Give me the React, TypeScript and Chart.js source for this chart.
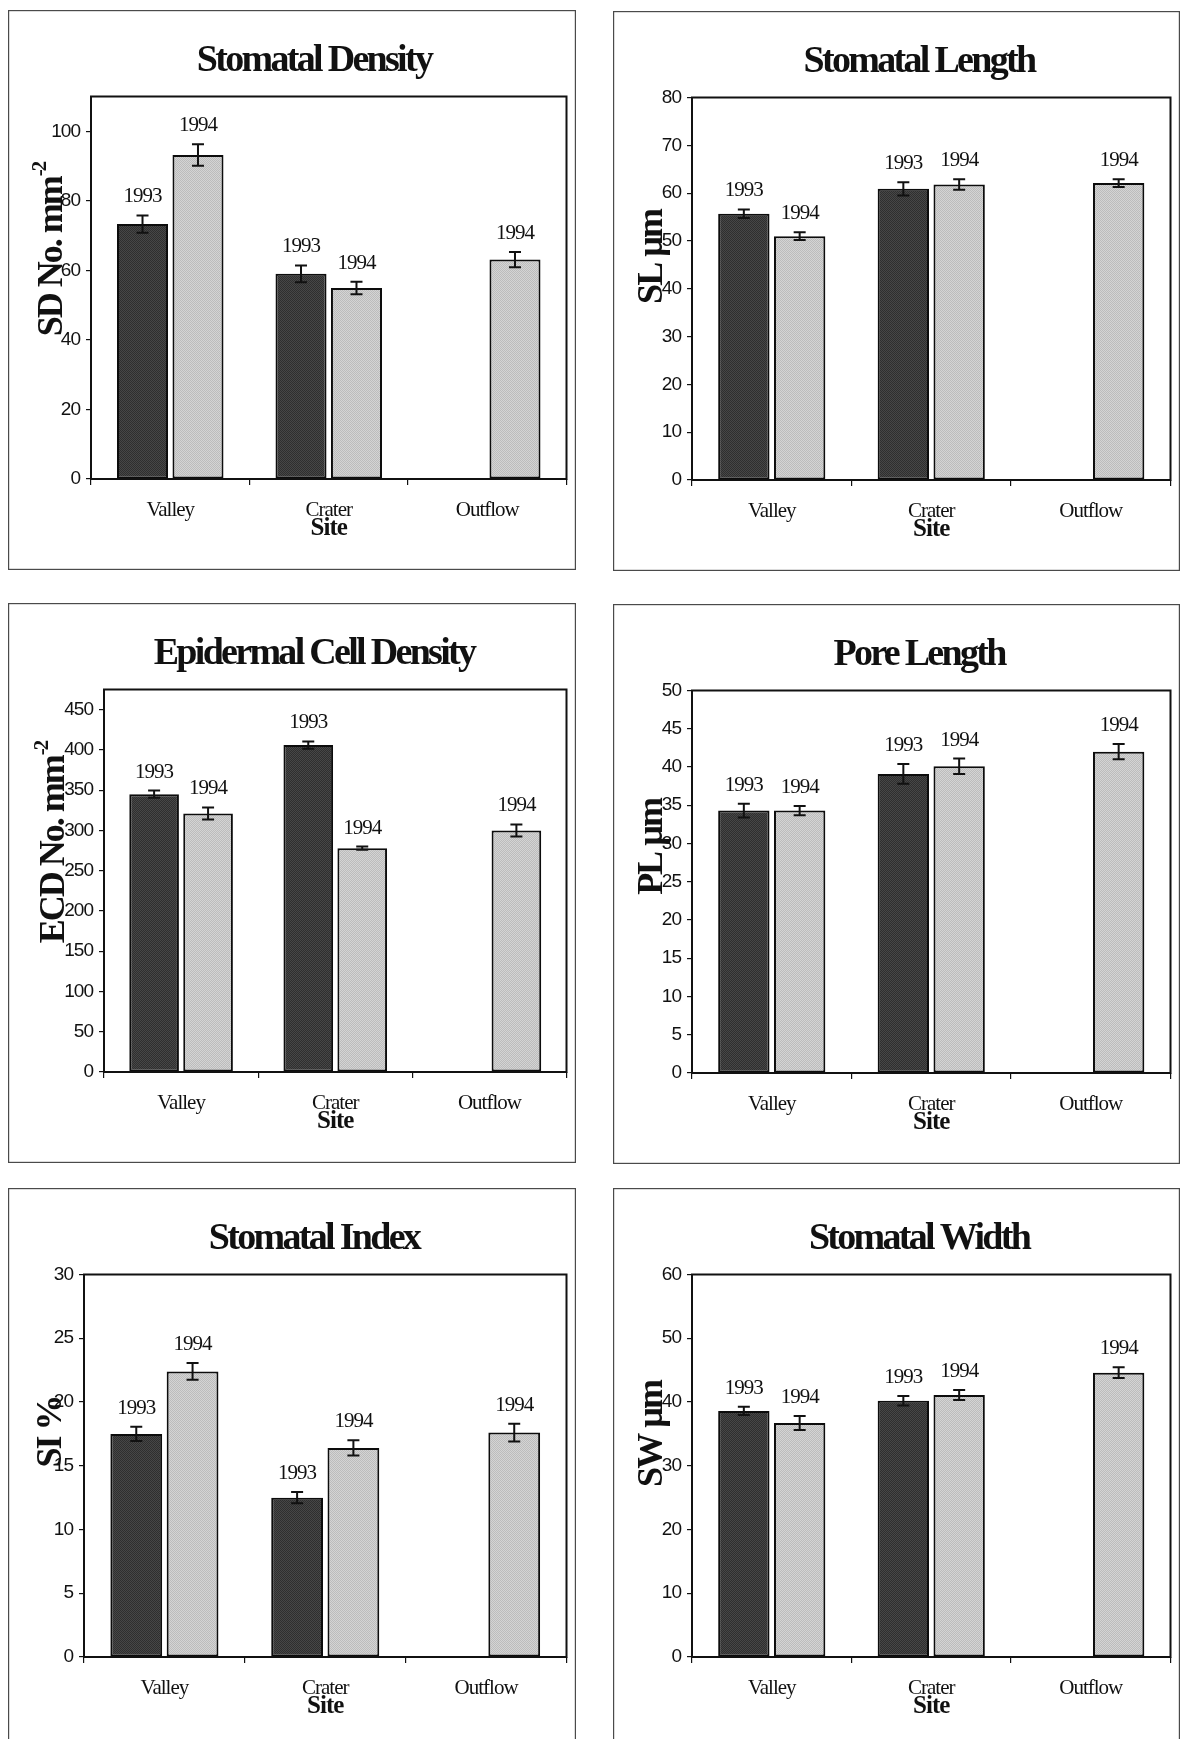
import React, { useEffect, useRef } from 'react';
import { Chart, registerables } from 'chart.js';

Chart.register(...registerables);

// ---- data ----
const SITES = ['Valley', 'Crater', 'Outflow'];
const YEAR_A = '1993';
const YEAR_B = '1994';

// Stomatal density (No. mm^-2)
const SD_1993 = [73.3, 59.0, null];
const SD_1994 = [93.2, 54.9, 63.1];
const SD_ERR_1993 = [2.5, 2.4, null];
const SD_ERR_1994 = [3.1, 1.8, 2.2];

// Stomatal length (µm)
const SL_1993 = [55.7, 60.9, null];
const SL_1994 = [51.0, 61.8, 62.1];
const SL_ERR_1993 = [0.9, 1.4, null];
const SL_ERR_1994 = [0.8, 1.1, 0.8];

// Epidermal cell density (No. mm^-2)
const ECD_1993 = [345, 406, null];
const ECD_1994 = [321, 278, 300];
const ECD_ERR_1993 = [4.5, 4.5, null];
const ECD_ERR_1994 = [7.5, 2.0, 7.5];

// Pore length (µm)
const PL_1993 = [34.3, 39.1, null];
const PL_1994 = [34.3, 40.1, 42.0];
const PL_ERR_1993 = [0.9, 1.3, null];
const PL_ERR_1994 = [0.6, 1.0, 1.0];

// Stomatal index (%)
const SI_1993 = [17.5, 12.5, null];
const SI_1994 = [22.4, 16.4, 17.6];
const SI_ERR_1993 = [0.55, 0.45, null];
const SI_ERR_1994 = [0.66, 0.6, 0.7];

// Stomatal width (µm)
const SW_1993 = [38.6, 40.2, null];
const SW_1994 = [36.7, 41.1, 44.6];
const SW_ERR_1993 = [0.65, 0.75, null];
const SW_ERR_1994 = [1.1, 0.8, 0.85];

// ---- panel setup ----
type PanelCfg = {
  title: string;
  yMain: string;
  ySup: string;
  max: number;
  step: number;
  a: (number | null)[];
  b: (number | null)[];
  ea: (number | null)[];
  eb: (number | null)[];
  left: number;
  top: number;
  width: number;
  plotLeft: number;
  yTitleX: number;
  yTitleY: number;
};

const PANEL_H = 560;
const PLOT_TOP = 86.5;
const PLOT_BOTTOM = 469;
const PLOT_RIGHT_PAD = 9.5;
const X_AXIS_H = 65;

const PANELS: PanelCfg[] = [
  { title: 'Stomatal Density', yMain: 'SD No. mm', ySup: '-2', max: 110, step: 20,
    a: SD_1993, b: SD_1994, ea: SD_ERR_1993, eb: SD_ERR_1994,
    left: 8, top: 10, width: 568, plotLeft: 83, yTitleX: 54, yTitleY: 240 },
  { title: 'Stomatal Length', yMain: 'SL µm', ySup: '', max: 80, step: 10,
    a: SL_1993, b: SL_1994, ea: SL_ERR_1993, eb: SL_ERR_1994,
    left: 613, top: 11, width: 567, plotLeft: 79, yTitleX: 49, yTitleY: 246 },
  { title: 'Epidermal Cell Density', yMain: 'ECD No. mm', ySup: '-2', max: 475, step: 50,
    a: ECD_1993, b: ECD_1994, ea: ECD_ERR_1993, eb: ECD_ERR_1994,
    left: 8, top: 603, width: 568, plotLeft: 96, yTitleX: 56, yTitleY: 240 },
  { title: 'Pore Length', yMain: 'PL µm', ySup: '', max: 50, step: 5,
    a: PL_1993, b: PL_1994, ea: PL_ERR_1993, eb: PL_ERR_1994,
    left: 613, top: 604, width: 567, plotLeft: 79, yTitleX: 49, yTitleY: 243 },
  { title: 'Stomatal Index', yMain: 'SI %', ySup: '', max: 30, step: 5,
    a: SI_1993, b: SI_1994, ea: SI_ERR_1993, eb: SI_ERR_1994,
    left: 8, top: 1188, width: 568, plotLeft: 76, yTitleX: 53, yTitleY: 244 },
  { title: 'Stomatal Width', yMain: 'SW µm', ySup: '', max: 60, step: 10,
    a: SW_1993, b: SW_1994, ea: SW_ERR_1993, eb: SW_ERR_1994,
    left: 613, top: 1188, width: 567, plotLeft: 79, yTitleX: 49, yTitleY: 246 },
];

const SERIF = '"Liberation Serif", "Times New Roman", serif';
const SANS = '"Liberation Sans", Arial, sans-serif';
const INK = '#111';

// fine two-tone checker used as a stippled bar fill
function stipple(ctx: CanvasRenderingContext2D, toneA: string, toneB: string) {
  const c = document.createElement('canvas');
  c.width = 2;
  c.height = 2;
  const g = c.getContext('2d')!;
  g.fillStyle = toneA;
  g.fillRect(0, 0, 2, 2);
  g.fillStyle = toneB;
  g.fillRect(1, 0, 1, 1);
  g.fillRect(0, 1, 1, 1);
  return ctx.createPattern(c, 'repeat')!;
}

function decorPlugin(cfg: PanelCfg) {
  return {
    id: 'panelDecor',
    beforeDraw(chart: any) {
      const ctx = chart.ctx as CanvasRenderingContext2D;
      ctx.save();
      ctx.fillStyle = '#fff';
      ctx.fillRect(0, 0, chart.width, chart.height);
      ctx.strokeStyle = '#4a4a4a';
      ctx.lineWidth = 1.2;
      ctx.strokeRect(0.6, 0.6, chart.width - 1.2, chart.height - 1.2);
      ctx.restore();
      // tighter tracking for the axis labels
      (ctx as any).letterSpacing = '-1px';
    },
    afterDatasetsDraw(chart: any) {
      const ctx = chart.ctx as CanvasRenderingContext2D;
      const yScale = chart.scales.y;
      const errs = [cfg.ea, cfg.eb];
      ctx.save();
      ctx.strokeStyle = INK;
      ctx.lineWidth = 2;
      chart.data.datasets.forEach((ds: any, i: number) => {
        const meta = chart.getDatasetMeta(i);
        meta.data.forEach((bar: any, j: number) => {
          const v = ds.data[j];
          const e = errs[i][j];
          if (v == null || e == null) return;
          const yt = yScale.getPixelForValue(v + e);
          const yb = yScale.getPixelForValue(v - e);
          const x = bar.x;
          ctx.beginPath();
          ctx.moveTo(x, yt);
          ctx.lineTo(x, yb);
          ctx.moveTo(x - 6, yt);
          ctx.lineTo(x + 6, yt);
          ctx.moveTo(x - 6, yb);
          ctx.lineTo(x + 6, yb);
          ctx.stroke();
        });
      });
      // plot frame
      const a = chart.chartArea;
      ctx.lineWidth = 2;
      ctx.strokeRect(a.left, a.top, a.right - a.left, a.bottom - a.top);
      ctx.restore();
    },
    afterDraw(chart: any) {
      const ctx = chart.ctx as CanvasRenderingContext2D;
      const yScale = chart.scales.y;
      const errs = [cfg.ea, cfg.eb];

      // year labels above each bar
      ctx.save();
      ctx.fillStyle = INK;
      ctx.font = `21px ${SERIF}`;
      (ctx as any).letterSpacing = '-1px';
      ctx.textAlign = 'center';
      ctx.textBaseline = 'alphabetic';
      chart.data.datasets.forEach((ds: any, i: number) => {
        const meta = chart.getDatasetMeta(i);
        meta.data.forEach((bar: any, j: number) => {
          const v = ds.data[j];
          if (v == null) return;
          const e = errs[i][j] ?? 0;
          const yt = yScale.getPixelForValue(v + e);
          ctx.fillText(ds.label, bar.x, yt - 13);
        });
      });
      ctx.restore();

      // panel title
      ctx.save();
      ctx.fillStyle = INK;
      ctx.font = `bold 38px ${SERIF}`;
      (ctx as any).letterSpacing = '-2.7px';
      ctx.textAlign = 'center';
      ctx.textBaseline = 'alphabetic';
      ctx.fillText(cfg.title, 306, 60.5);
      ctx.restore();

      // rotated y-axis title with optional superscript
      ctx.save();
      ctx.fillStyle = INK;
      (ctx as any).letterSpacing = '-2px';
      ctx.translate(cfg.yTitleX, cfg.yTitleY);
      ctx.rotate(-Math.PI / 2);
      ctx.textAlign = 'left';
      ctx.textBaseline = 'alphabetic';
      ctx.font = `bold 36px ${SERIF}`;
      const mainW = ctx.measureText(cfg.yMain).width;
      let supW = 0;
      if (cfg.ySup) {
        ctx.font = `bold 21px ${SERIF}`;
        supW = ctx.measureText(cfg.ySup).width;
      }
      const x0 = -(mainW + supW) / 2;
      ctx.font = `bold 36px ${SERIF}`;
      ctx.fillText(cfg.yMain, x0, 0);
      if (cfg.ySup) {
        ctx.font = `bold 21px ${SERIF}`;
        ctx.fillText(cfg.ySup, x0 + mainW + 1, -16);
      }
      ctx.restore();
    },
  };
}

function Panel({ cfg }: { cfg: PanelCfg }) {
  const ref = useRef<HTMLCanvasElement>(null);

  useEffect(() => {
    const canvas = ref.current!;
    const ctx = canvas.getContext('2d')!;
    const dark = stipple(ctx, '#2f2f2f', '#474747');
    const light = stipple(ctx, '#bcbcbc', '#d4d4d4');
    const plotRight = cfg.width - PLOT_RIGHT_PAD;
    const step = cfg.step;

    const chart = new Chart(canvas, {
      type: 'bar',
      data: {
        labels: SITES,
        datasets: [
          {
            label: YEAR_A,
            data: cfg.a,
            backgroundColor: dark,
            borderColor: '#0c0c0c',
            borderWidth: 2,
            borderSkipped: false,
            categoryPercentage: 0.7,
            barPercentage: 0.92,
          },
          {
            label: YEAR_B,
            data: cfg.b,
            backgroundColor: light,
            borderColor: '#0c0c0c',
            borderWidth: 2,
            borderSkipped: false,
            categoryPercentage: 0.7,
            barPercentage: 0.92,
          },
        ],
      },
      options: {
        animation: false,
        responsive: false,
        devicePixelRatio: 1,
        events: [],
        layout: {
          padding: {
            left: 0,
            top: PLOT_TOP,
            right: cfg.width - plotRight,
            bottom: PANEL_H - PLOT_BOTTOM - X_AXIS_H,
          },
        },
        plugins: {
          legend: { display: false },
          tooltip: { enabled: false },
          title: { display: false },
        },
        scales: {
          x: {
            grid: {
              offset: true,
              drawOnChartArea: false,
              drawTicks: true,
              tickLength: 6,
              color: INK,
              lineWidth: 1.2,
            },
            border: { display: false },
            ticks: {
              font: { family: SERIF, size: 21 },
              color: INK,
              padding: 13,
              maxRotation: 0,
              autoSkip: false,
            },
            title: {
              display: true,
              text: 'Site',
              color: INK,
              font: { family: SERIF, size: 25, weight: 'bold' },
              padding: 0,
            },
            afterFit: (s: any) => {
              s.height = X_AXIS_H;
            },
          },
          y: {
            min: 0,
            max: cfg.max,
            ticks: {
              stepSize: step,
              font: { family: SANS, size: 19 },
              color: INK,
              padding: 6,
            },
            grid: {
              drawOnChartArea: false,
              drawTicks: true,
              tickLength: 5,
              color: INK,
              lineWidth: 1.2,
            },
            border: { display: false },
            afterBuildTicks: (s: any) => {
              const ticks = [];
              for (let v = 0; v <= cfg.max + 1e-9; v += step) ticks.push({ value: v });
              s.ticks = ticks;
            },
            afterFit: (s: any) => {
              s.width = cfg.plotLeft;
            },
          },
        },
      } as any,
      plugins: [decorPlugin(cfg)],
    });

    return () => chart.destroy();
  }, [cfg]);

  return (
    <canvas
      ref={ref}
      width={cfg.width}
      height={PANEL_H}
      style={{
        position: 'absolute',
        left: cfg.left,
        top: cfg.top,
        width: cfg.width,
        height: PANEL_H,
      }}
    />
  );
}

export default function App() {
  return (
    <div
      style={{
        position: 'absolute',
        left: 0,
        top: 0,
        width: 1185,
        height: 1739,
        overflow: 'hidden',
        background: '#fff',
      }}
    >
      {PANELS.map((p) => (
        <Panel key={p.title} cfg={p} />
      ))}
    </div>
  );
}
